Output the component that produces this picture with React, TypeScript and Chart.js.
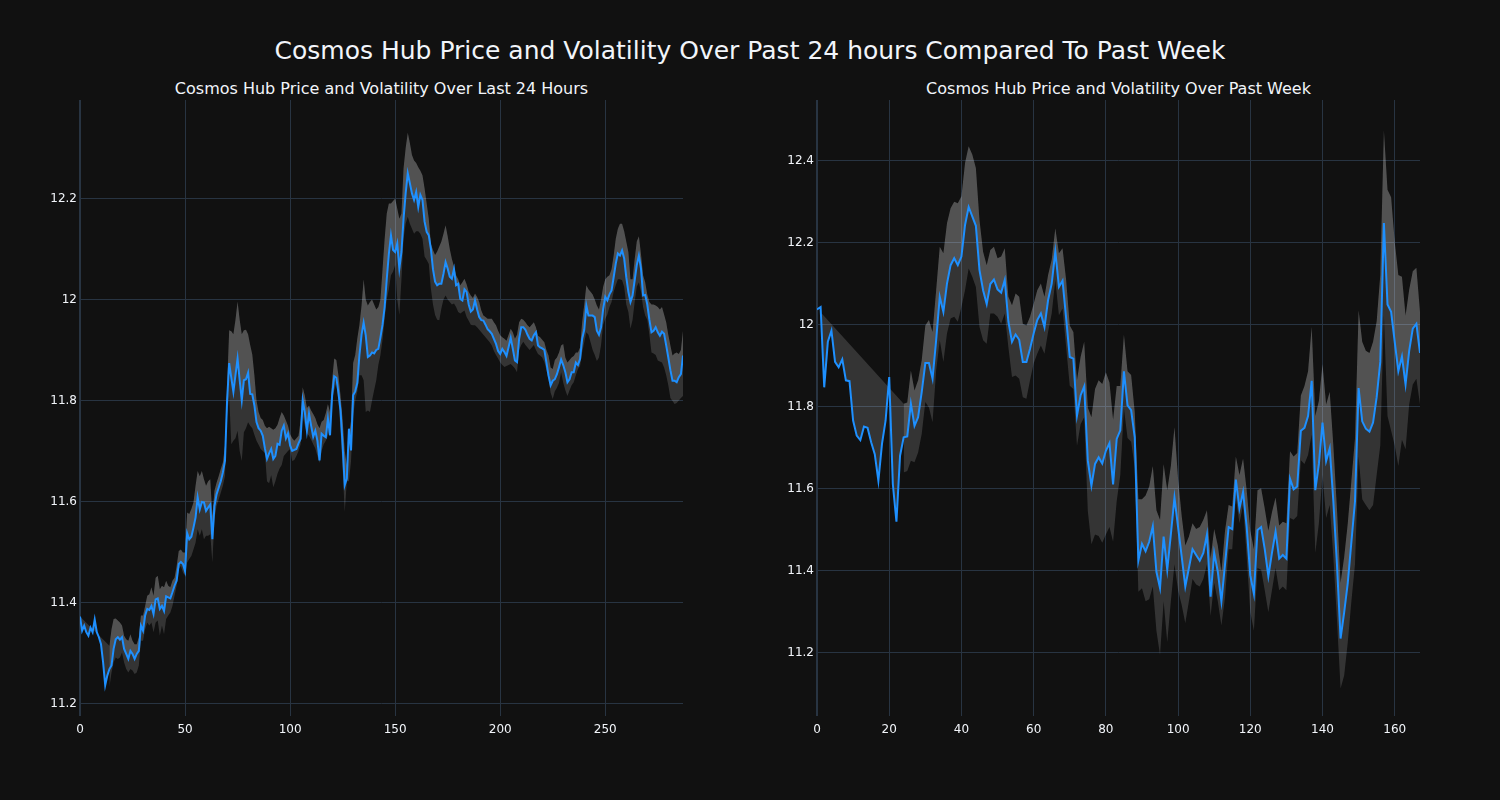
import React, { useEffect, useRef } from 'react';
import { Chart, registerables } from 'chart.js';

Chart.register(...registerables);

const MAIN_TITLE = 'Cosmos Hub Price and Volatility Over Past 24 hours Compared To Past Week';
const LEFT_TITLE = 'Cosmos Hub Price and Volatility Over Last 24 Hours';
const RIGHT_TITLE = 'Cosmos Hub Price and Volatility Over Past Week';

// ---- Last 24 hours (5-minute steps) ----
const LEFT_PRICE = [
  11.372, 11.344, 11.354, 11.341, 11.334, 11.350, 11.341, 11.366, 11.341, 11.331,
  11.317, 11.281, 11.236, 11.255, 11.268, 11.275, 11.308, 11.327, 11.331, 11.326,
  11.331, 11.308, 11.298, 11.288, 11.304, 11.298, 11.288, 11.298, 11.304, 11.354,
  11.344, 11.374, 11.387, 11.385, 11.393, 11.377, 11.406, 11.408, 11.387, 11.393,
  11.383, 11.412, 11.410, 11.408, 11.420, 11.433, 11.443, 11.476, 11.480, 11.476,
  11.462, 11.537, 11.525, 11.530, 11.548, 11.568, 11.608, 11.584, 11.599, 11.598,
  11.581, 11.588, 11.594, 11.525, 11.591, 11.614, 11.627, 11.640, 11.657, 11.680,
  11.799, 11.874, 11.845, 11.817, 11.850, 11.883, 11.840, 11.800, 11.840, 11.842,
  11.855, 11.813, 11.812, 11.790, 11.757, 11.745, 11.740, 11.730, 11.705, 11.684,
  11.695, 11.704, 11.684, 11.690, 11.714, 11.712, 11.740, 11.750, 11.725, 11.735,
  11.711, 11.700, 11.702, 11.704, 11.715, 11.724, 11.800, 11.777, 11.740, 11.774,
  11.750, 11.728, 11.740, 11.720, 11.681, 11.734, 11.730, 11.727, 11.764, 11.731,
  11.810, 11.848, 11.845, 11.815, 11.780, 11.711, 11.632, 11.645, 11.744, 11.701,
  11.810, 11.818, 11.835, 11.890, 11.930, 11.954, 11.929, 11.886, 11.889, 11.895,
  11.893, 11.900, 11.902, 11.925, 11.950, 11.985, 12.040, 12.090, 12.127, 12.098,
  12.094, 12.111, 12.061, 12.094, 12.160, 12.210, 12.250, 12.230, 12.210, 12.197,
  12.213, 12.183, 12.207, 12.197, 12.154, 12.134, 12.127, 12.100, 12.060, 12.035,
  12.028, 12.031, 12.031, 12.051, 12.074, 12.061, 12.045, 12.041, 12.060, 12.028,
  12.031, 12.001, 11.998, 12.020, 12.015, 11.990, 11.976, 11.980, 11.998, 11.980,
  11.965, 11.959, 11.958, 11.950, 11.941, 11.937, 11.932, 11.922, 11.912, 11.898,
  11.892, 11.902, 11.896, 11.888, 11.906, 11.924, 11.902, 11.879, 11.876, 11.922,
  11.945, 11.945, 11.940, 11.930, 11.922, 11.919, 11.929, 11.935, 11.909, 11.905,
  11.903, 11.900, 11.875, 11.849, 11.830, 11.839, 11.842, 11.852, 11.866, 11.881,
  11.870, 11.856, 11.836, 11.842, 11.856, 11.856, 11.875, 11.870, 11.882, 11.922,
  11.940, 11.988, 11.968, 11.968, 11.968, 11.965, 11.938, 11.930, 11.945, 11.981,
  12.005, 11.998, 12.010, 12.018, 12.044, 12.071, 12.091, 12.087, 12.097, 12.081,
  12.044, 12.015, 11.995, 12.008, 12.038, 12.068, 12.087, 12.061, 12.008, 12.009,
  11.990, 11.960, 11.935, 11.938, 11.945, 11.935, 11.928, 11.936, 11.932, 11.909,
  11.885, 11.860, 11.839, 11.839, 11.836, 11.846, 11.852, 11.889,
];

const LEFT_UPPER = [
  11.372, null, null, null, null, null, null, null, null, null,
  null, null, null, null, 11.314, 11.347, 11.367, 11.368, 11.364, 11.360,
  11.354, 11.334, 11.327, 11.324, 11.337, 11.324, 11.317, 11.317, 11.331, 11.374,
  11.374, 11.393, 11.413, 11.416, 11.430, 11.413, 11.449, 11.453, 11.426, 11.433,
  11.430, 11.443, 11.433, 11.430, 11.443, 11.449, 11.472, 11.502, 11.505, 11.499,
  11.499, 11.578, 11.575, 11.585, 11.598, 11.631, 11.660, 11.650, 11.660, 11.644,
  11.631, 11.640, 11.644, 11.571, 11.621, 11.637, 11.650, 11.664, 11.677, 11.710,
  11.828, 11.939, 11.937, 11.931, 11.960, 11.996, 11.960, 11.931, 11.939, 11.940,
  11.931, 11.910, 11.891, 11.850, 11.800, 11.777, 11.765, 11.761, 11.750, 11.745,
  11.748, 11.745, 11.742, 11.745, 11.752, 11.765, 11.777, 11.770, 11.760, 11.750,
  11.733, 11.725, 11.720, 11.725, 11.730, 11.760, 11.826, 11.810, 11.785, 11.790,
  11.780, 11.773, 11.765, 11.753, 11.745, 11.758, 11.761, 11.775, 11.793, 11.777,
  11.840, 11.883, 11.880, 11.850, 11.810, 11.761, 11.700, 11.672, 11.729, 11.760,
  11.874, 11.890, 11.923, 11.950, 11.988, 12.040, 12.000, 11.988, 11.995, 12.000,
  11.990, 11.980, 11.985, 12.000, 12.060, 12.120, 12.170, 12.190, 12.190, 12.195,
  12.200, 12.180, 12.160, 12.170, 12.260, 12.300, 12.330, 12.310, 12.286, 12.275,
  12.270, 12.262, 12.255, 12.246, 12.220, 12.190, 12.160, 12.110, 12.098, 12.088,
  12.095, 12.105, 12.115, 12.130, 12.147, 12.125, 12.100, 12.080, 12.065, 12.048,
  12.040, 12.028, 12.034, 12.041, 12.030, 12.015, 12.008, 12.003, 12.012, 12.005,
  11.995, 11.978, 11.968, 11.965, 11.962, 11.962, 11.962, 11.955, 11.949, 11.938,
  11.929, 11.925, 11.922, 11.918, 11.930, 11.942, 11.935, 11.922, 11.930, 11.955,
  11.962, 11.960, 11.955, 11.949, 11.945, 11.950, 11.955, 11.945, 11.928, 11.925,
  11.920, 11.915, 11.900, 11.889, 11.865, 11.862, 11.880, 11.885, 11.895, 11.909,
  11.912, 11.885, 11.875, 11.880, 11.885, 11.888, 11.895, 11.895, 11.905, 11.955,
  11.990, 12.028, 12.020, 12.015, 12.010, 12.000, 11.988, 11.980, 12.000, 12.025,
  12.040, 12.045, 12.048, 12.060, 12.087, 12.120, 12.140, 12.150, 12.150, 12.135,
  12.115, 12.094, 12.040, 12.040, 12.080, 12.115, 12.125, 12.090, 12.048, 12.034,
  12.010, 11.995, 11.990, 11.990, 11.988, 11.985, 11.980, 11.985, 11.970, 11.955,
  11.930, 11.909, 11.889, 11.893, 11.895, 11.892, 11.900, 11.938,
];

const LEFT_LOWER = [
  null, null, null, null, null, null, null, null, null, null,
  null, null, null, null, 11.232, 11.261, 11.281, 11.291, 11.288, 11.291,
  11.301, 11.281, 11.268, 11.261, 11.268, 11.265, 11.258, 11.261, 11.275, 11.324,
  11.324, 11.347, 11.360, 11.354, 11.360, 11.341, 11.360, 11.364, 11.334, 11.354,
  11.337, 11.367, 11.374, 11.380, 11.393, 11.413, 11.433, 11.466, 11.472, 11.459,
  11.453, 11.479, 11.486, 11.492, 11.505, 11.518, 11.545, 11.532, 11.545, 11.525,
  11.532, 11.532, 11.535, 11.479, 11.565, 11.591, 11.604, 11.617, 11.631, 11.650,
  11.769, 11.809, 11.713, 11.720, 11.725, 11.740, 11.700, 11.680, 11.737, 11.745,
  11.757, 11.750, 11.745, 11.732, 11.720, 11.712, 11.704, 11.700, 11.696, 11.640,
  11.636, 11.652, 11.628, 11.640, 11.655, 11.665, 11.672, 11.690, 11.695, 11.700,
  11.704, 11.680, 11.682, 11.690, 11.700, 11.713, 11.769, 11.750, 11.735, 11.730,
  11.722, 11.713, 11.705, 11.690, 11.676, 11.700, 11.713, 11.720, 11.730, 11.745,
  11.800, 11.820, 11.834, 11.800, 11.740, 11.664, 11.579, 11.640, 11.640, 11.680,
  11.769, 11.800, 11.818, 11.850, 11.850, 11.840, 11.777, 11.780, 11.777, 11.800,
  11.820, 11.840, 11.870, 11.890, 11.920, 11.962, 12.000, 12.020, 12.048, 12.055,
  12.068, 12.000, 11.969, 12.040, 12.120, 12.150, 12.164, 12.150, 12.140, 12.130,
  12.135, 12.135, 12.130, 12.120, 12.085, 12.078, 12.070, 12.021, 11.990, 11.969,
  11.960, 11.959, 11.982, 12.000, 12.008, 12.000, 11.995, 11.990, 11.992, 11.985,
  11.975, 11.972, 11.975, 11.978, 11.965, 11.958, 11.950, 11.949, 11.949, 11.945,
  11.940, 11.935, 11.930, 11.925, 11.920, 11.915, 11.909, 11.898, 11.890, 11.883,
  11.875, 11.870, 11.866, 11.868, 11.870, 11.872, 11.868, 11.863, 11.856, 11.900,
  11.910, 11.916, 11.910, 11.905, 11.900, 11.905, 11.910, 11.900, 11.892, 11.889,
  11.885, 11.876, 11.860, 11.842, 11.815, 11.803, 11.818, 11.825, 11.835, 11.856,
  11.835, 11.820, 11.809, 11.820, 11.830, 11.836, 11.850, 11.862, 11.868, 11.895,
  11.915, 11.935, 11.930, 11.915, 11.900, 11.890, 11.878, 11.885, 11.910, 11.950,
  11.962, 11.970, 11.985, 11.995, 12.015, 12.028, 12.040, 12.040, 12.038, 12.025,
  11.990, 11.975, 11.942, 11.960, 11.995, 12.025, 12.034, 12.015, 11.985, 11.968,
  11.960, 11.930, 11.895, 11.893, 11.890, 11.879, 11.877, 11.875, 11.865, 11.850,
  11.830, 11.805, 11.799, 11.793, 11.795, 11.800, 11.805, 11.809,
];

// ---- Past week (hourly steps) ----
const RIGHT_PRICE = [
  12.037, 12.043, 11.847, 11.958, 11.985, 11.909, 11.896, 11.915, 11.864, 11.862,
  11.766, 11.729, 11.718, 11.751, 11.748, 11.713, 11.684, 11.619, 11.709, 11.766,
  11.872, 11.611, 11.519, 11.680, 11.725, 11.727, 11.807, 11.753, 11.774, 11.835,
  11.906, 11.906, 11.868, 11.962, 12.068, 12.031, 12.100, 12.145, 12.162, 12.145,
  12.166, 12.243, 12.287, 12.264, 12.241, 12.133, 12.084, 12.050, 12.099, 12.110,
  12.086, 12.078, 12.109, 12.007, 11.958, 11.976, 11.963, 11.909, 11.909, 11.941,
  11.978, 12.011, 12.027, 11.994, 12.060, 12.100, 12.178, 12.092, 12.107, 12.015,
  11.921, 11.917, 11.778, 11.827, 11.849, 11.668, 11.607, 11.660, 11.676, 11.661,
  11.692, 11.711, 11.610, 11.721, 11.742, 11.886, 11.803, 11.791, 11.725, 11.424,
  11.465, 11.447, 11.470, 11.508, 11.397, 11.357, 11.483, 11.402, 11.488, 11.578,
  11.506, 11.434, 11.361, 11.406, 11.452, 11.438, 11.424, 11.443, 11.488, 11.336,
  11.443, 11.397, 11.325, 11.415, 11.506, 11.501, 11.622, 11.551, 11.592, 11.506,
  11.388, 11.343, 11.499, 11.506, 11.452, 11.386, 11.443, 11.495, 11.429, 11.438,
  11.429, 11.624, 11.598, 11.605, 11.741, 11.748, 11.777, 11.863, 11.596, 11.660,
  11.761, 11.667, 11.698, 11.569, 11.415, 11.234, 11.298, 11.370, 11.470, 11.569,
  11.845, 11.764, 11.746, 11.739, 11.761, 11.823, 11.909, 12.248, 12.049, 12.031,
  11.958, 11.886, 11.922, 11.854, 11.936, 11.990, 12.002, 11.931,
];

const RIGHT_UPPER = [
  null, 12.030, null, null, null, null, null, null, null, null,
  null, null, null, null, null, null, null, null, null, null,
  null, null, null, null, 11.807, 11.810, 11.888, 11.839, 11.864, 11.913,
  11.998, 12.011, 11.982, 12.084, 12.190, 12.174, 12.247, 12.284, 12.300, 12.296,
  12.313, 12.394, 12.435, 12.415, 12.382, 12.255, 12.178, 12.145, 12.182, 12.190,
  12.162, 12.166, 12.186, 12.068, 12.047, 12.076, 12.068, 12.002, 11.998, 12.019,
  12.051, 12.084, 12.100, 12.068, 12.121, 12.158, 12.235, 12.174, 12.186, 12.109,
  11.998, 11.982, 11.864, 11.921, 11.958, 11.798, 11.774, 11.843, 11.864, 11.855,
  11.884, 11.859, 11.768, 11.850, 11.850, 11.976, 11.886, 11.877, 11.786, 11.574,
  11.574, 11.583, 11.605, 11.655, 11.547, 11.524, 11.660, 11.596, 11.655, 11.750,
  11.624, 11.533, 11.461, 11.483, 11.515, 11.501, 11.506, 11.524, 11.547, 11.429,
  11.501, 11.461, 11.397, 11.497, 11.560, 11.556, 11.678, 11.633, 11.673, 11.596,
  11.497, 11.452, 11.596, 11.601, 11.551, 11.497, 11.542, 11.578, 11.510, 11.519,
  11.515, 11.691, 11.678, 11.687, 11.827, 11.850, 11.886, 11.995, 11.777, 11.814,
  11.904, 11.805, 11.836, 11.705, 11.551, 11.370, 11.433, 11.515, 11.619, 11.723,
  12.035, 11.958, 11.936, 11.931, 11.958, 12.008, 12.121, 12.474, 12.329, 12.311,
  12.203, 12.121, 12.117, 12.022, 12.085, 12.130, 12.139, 12.031,
];

const RIGHT_LOWER = [
  null, null, null, null, null, null, null, null, null, null,
  null, null, null, null, null, null, null, null, null, null,
  null, null, null, null, 11.639, 11.643, 11.668, 11.664, 11.688, 11.733,
  11.811, 11.798, 11.762, 11.888, 11.962, 11.909, 11.978, 12.015, 12.019, 12.007,
  12.043, 12.084, 12.137, 12.117, 12.092, 11.994, 11.962, 11.953, 12.027, 12.027,
  12.019, 12.002, 12.027, 11.945, 11.872, 11.876, 11.868, 11.823, 11.819, 11.864,
  11.905, 11.929, 11.949, 11.929, 11.982, 12.027, 12.109, 12.023, 12.039, 11.945,
  11.851, 11.843, 11.704, 11.757, 11.774, 11.545, 11.464, 11.488, 11.484, 11.468,
  11.488, 11.506, 11.470, 11.569, 11.633, 11.795, 11.723, 11.714, 11.651, 11.348,
  11.357, 11.325, 11.330, 11.361, 11.253, 11.194, 11.325, 11.225, 11.325, 11.415,
  11.352, 11.316, 11.271, 11.325, 11.379, 11.366, 11.361, 11.379, 11.415, 11.289,
  11.370, 11.325, 11.266, 11.334, 11.452, 11.452, 11.578, 11.515, 11.560, 11.433,
  11.298, 11.253, 11.406, 11.402, 11.352, 11.298, 11.352, 11.406, 11.352, 11.361,
  11.352, 11.528, 11.524, 11.533, 11.669, 11.660, 11.682, 11.732, 11.443, 11.515,
  11.633, 11.528, 11.560, 11.433, 11.280, 11.112, 11.144, 11.225, 11.325, 11.415,
  11.678, 11.574, 11.560, 11.547, 11.560, 11.633, 11.705, 12.022, 11.777, 11.741,
  11.705, 11.655, 11.719, 11.696, 11.805, 11.854, 11.868, 11.805,
];

const LEFT_X_TICKS = [0, 50, 100, 150, 200, 250];
const LEFT_Y_TICKS = [11.2, 11.4, 11.6, 11.8, 12.0, 12.2];
const RIGHT_X_TICKS = [0, 20, 40, 60, 80, 100, 120, 140, 160];
const RIGHT_Y_TICKS = [11.2, 11.4, 11.6, 11.8, 12.0, 12.2, 12.4];

const BG = '#111111';
const GRID = '#283442';
const TEXT = '#f2f5fa';
const LINE = '#1e90ff';
const BAND = 'rgba(255,255,255,0.15)';
const FONT = '"DejaVu Sans", Verdana, sans-serif';

type Props = {
  price: (number | null)[];
  upper: (number | null)[];
  lower: (number | null)[];
  xTicks: number[];
  yTicks: number[];
  yMin: number;
  yMax: number;
  left: number;
  title: string;
};

const pts = (arr: (number | null)[]) => arr.map((v, i) => ({ x: i, y: v }));

function SubPlot({ price, upper, lower, xTicks, yTicks, yMin, yMax, left, title }: Props) {
  const ref = useRef<HTMLCanvasElement | null>(null);

  useEffect(() => {
    if (!ref.current) return;
    const chart = new Chart(ref.current, {
      type: 'line',
      data: {
        datasets: [
          {
            label: 'price',
            data: pts(price),
            borderColor: LINE,
            borderWidth: 2,
            pointRadius: 0,
            fill: false,
            tension: 0,
            order: 0,
          },
          {
            label: 'upper',
            data: pts(upper),
            borderColor: 'rgba(0,0,0,0)',
            borderWidth: 0,
            pointRadius: 0,
            backgroundColor: BAND,
            fill: { target: 0 },
            spanGaps: true,
            tension: 0,
            order: 1,
          },
          {
            label: 'lower',
            data: pts(lower),
            borderColor: 'rgba(0,0,0,0)',
            borderWidth: 0,
            pointRadius: 0,
            backgroundColor: BAND,
            fill: { target: 1 },
            spanGaps: true,
            tension: 0,
            order: 2,
          },
        ],
      } as any,
      options: {
        animation: false,
        responsive: false,
        maintainAspectRatio: false,
        layout: { padding: 0 },
        plugins: {
          legend: { display: false },
          tooltip: { enabled: false },
          title: { display: false },
        },
        scales: {
          x: {
            type: 'linear',
            min: 0,
            max: price.length - 1,
            afterBuildTicks: (s: any) => {
              s.ticks = xTicks.map((v) => ({ value: v }));
            },
            afterFit: (s: any) => {
              s.height = 40;
              s.paddingLeft = 0;
              s.paddingRight = 0;
            },
            grid: {
              color: GRID,
              lineWidth: (c: any) => (c.tick && c.tick.value === 0 ? 2 : 1),
              drawTicks: false,
            },
            border: { display: false },
            ticks: {
              color: TEXT,
              font: { family: FONT, size: 12 },
              padding: 7,
              maxRotation: 0,
              callback: (v: any) => String(v),
            },
          },
          y: {
            type: 'linear',
            min: yMin,
            max: yMax,
            afterBuildTicks: (s: any) => {
              s.ticks = yTicks.map((v) => ({ value: v }));
            },
            afterFit: (s: any) => {
              s.width = 60;
              s.paddingTop = 0;
              s.paddingBottom = 0;
            },
            grid: { color: GRID, lineWidth: 1, drawTicks: false },
            border: { display: false },
            ticks: {
              color: TEXT,
              font: { family: FONT, size: 12 },
              padding: 3,
              callback: (v: any) => String(Math.round(Number(v) * 10) / 10),
            },
          },
        },
      } as any,
    });
    return () => chart.destroy();
  }, []);

  return (
    <>
      <div
        style={{
          position: 'absolute',
          left: left + 60,
          top: 79,
          width: 603,
          textAlign: 'center',
          color: TEXT,
          fontFamily: FONT,
          fontSize: 16,
          lineHeight: '20px',
          whiteSpace: 'nowrap',
        }}
      >
        {title}
      </div>
      <canvas
        ref={ref}
        width={663}
        height={656}
        style={{ position: 'absolute', left, top: 100, width: 663, height: 656 }}
      />
    </>
  );
}

export default function App() {
  return (
    <div
      style={{
        position: 'fixed',
        left: 0,
        top: 0,
        width: 1500,
        height: 800,
        background: BG,
        overflow: 'hidden',
      }}
    >
      <div
        style={{
          position: 'absolute',
          left: 0,
          top: 36,
          width: 1500,
          textAlign: 'center',
          color: TEXT,
          fontFamily: FONT,
          fontSize: 25,
          lineHeight: '30px',
          whiteSpace: 'nowrap',
        }}
      >
        {MAIN_TITLE}
      </div>
      <SubPlot
        price={LEFT_PRICE}
        upper={LEFT_UPPER}
        lower={LEFT_LOWER}
        xTicks={LEFT_X_TICKS}
        yTicks={LEFT_Y_TICKS}
        yMin={11.175}
        yMax={12.395}
        left={20}
        title={LEFT_TITLE}
      />
      <SubPlot
        price={RIGHT_PRICE}
        upper={RIGHT_UPPER}
        lower={RIGHT_LOWER}
        xTicks={RIGHT_X_TICKS}
        yTicks={RIGHT_Y_TICKS}
        yMin={11.045}
        yMax={12.548}
        left={757}
        title={RIGHT_TITLE}
      />
    </div>
  );
}
